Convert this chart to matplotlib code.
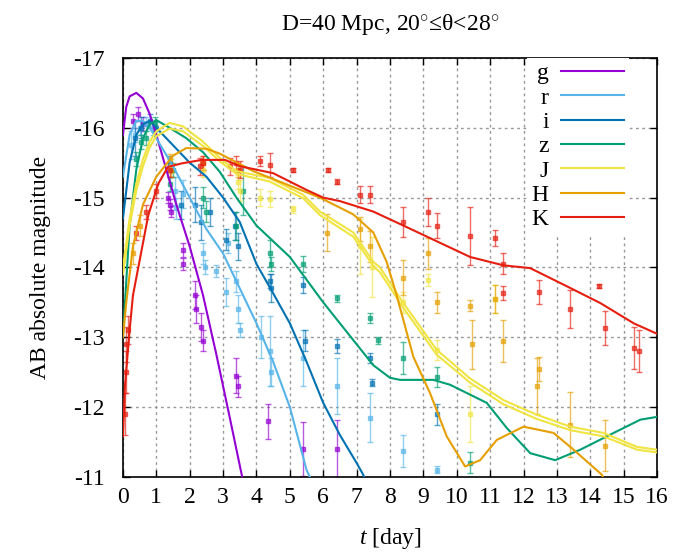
import matplotlib
matplotlib.use("Agg")
import matplotlib.pyplot as plt

plt.rcParams['font.family'] = ['Liberation Serif', 'DejaVu Serif']
plt.rcParams['mathtext.fontset'] = 'custom'
plt.rcParams['mathtext.rm'] = 'Liberation Serif'
plt.rcParams['mathtext.it'] = 'Liberation Serif:italic'
plt.rcParams['axes.unicode_minus'] = False

bands = ['g', 'r', 'i', 'z', 'J', 'H', 'K']
colors = {'g': '#9400d3', 'r': '#56b4e9', 'i': '#0072b2', 'z': '#009e73',
          'J': '#f0e442', 'H': '#e69f00', 'K': '#e51e10'}

# model curves
g_t = [0, 0.1, 0.2, 0.4, 0.6, 0.8, 1.0, 1.3, 1.6, 2.0, 2.4, 2.8, 3.2, 3.55, 3.62]
g_m = [-15.9, -16.3, -16.45, -16.5, -16.42, -16.2, -15.9, -15.4, -14.9, -14.3, -13.6, -12.75, -11.85, -11.05, -10.9]

r_t = [0, 0.2, 0.4, 0.6, 0.8, 1.0, 1.5, 2.0, 2.5, 3.0, 3.5, 4.0, 4.5, 5.0, 5.5, 5.7]
r_m = [-15.3, -15.9, -16.1, -16.1, -16.0, -15.85, -15.45, -15.0, -14.55, -14.2, -13.7, -13.2, -12.65, -12.0, -11.1, -10.9]

i_t = [0, 0.2, 0.4, 0.6, 0.8, 1.0, 1.5, 2.0, 2.5, 3.0, 3.5, 4.0, 4.5, 5.0, 5.5, 6.0, 6.5, 7.0, 7.2, 7.3]
i_m = [-14.7, -15.5, -15.9, -16.05, -16.1, -16.0, -15.75, -15.5, -15.3, -15.0, -14.65, -14.05, -13.63, -13.2, -12.65, -12.06, -11.6, -11.2, -11.03, -10.9]

z_t = [0, 0.2, 0.4, 0.6, 0.8, 1.0, 1.4, 1.9, 2.4, 2.9, 3.4, 4.0, 5.0, 6.0, 7.0, 7.5, 8.0, 8.3, 9.3, 9.8, 10.9, 11.5, 12.2, 12.95, 13.7, 14.7, 15.5, 16]
z_m = [-13.0, -14.6, -15.4, -15.85, -16.05, -16.11, -16.0, -15.85, -15.65, -15.37, -15.0, -14.6, -14.15, -13.5, -12.9, -12.6, -12.42, -12.39, -12.39, -12.32, -12.06, -11.7, -11.34, -11.24, -11.39, -11.63, -11.82, -11.86]

J_t = [0, 0.2, 0.4, 0.6, 0.8, 1.0, 1.4, 1.8, 2.4, 2.9, 3.4, 4.4, 5.4, 5.9, 6.9, 7.5, 7.7, 8.4, 9.4, 10.4, 11.4, 12.4, 13.4, 14.4, 15.4, 16]
J_m = [-14.0, -14.7, -15.2, -15.55, -15.8, -15.95, -16.07, -16.02, -15.8, -15.57, -15.38, -15.28, -15.04, -14.8, -14.5, -14.08, -14.0, -13.49, -12.82, -12.41, -12.1, -11.89, -11.72, -11.63, -11.43, -11.39]
J2_m = [-13.9, -14.6, -15.1, -15.45, -15.72, -15.88, -15.99, -15.95, -15.74, -15.52, -15.34, -15.23, -14.99, -14.75, -14.44, -14.02, -13.93, -13.42, -12.75, -12.35, -12.04, -11.83, -11.67, -11.58, -11.39, -11.35]

H_t = [0, 0.1, 0.3, 0.6, 1.0, 1.5, 1.9, 2.5, 2.9, 3.9, 4.9, 5.9, 6.9, 7.5, 7.9, 8.2, 8.7, 9.2, 9.7, 10.25, 10.7, 11.2, 12.0, 12.9, 13.5, 14.35, 14.45]
H_m = [-13.0, -13.5, -14.3, -14.9, -15.3, -15.6, -15.71, -15.7, -15.63, -15.38, -15.19, -15.0, -14.76, -14.5, -14.08, -13.6, -12.72, -12.2, -11.58, -11.15, -11.24, -11.53, -11.72, -11.63, -11.39, -11.03, -10.9]

K_t = [0, 0.06, 0.2, 0.3, 0.5, 0.76, 1.06, 1.35, 1.76, 2.36, 3.06, 3.5, 4.5, 5.5, 6.0, 6.5, 7.5, 8.4, 9.2, 10.4, 11.4, 12.2, 13.3, 14.3, 15.3, 16]
K_m = [-11.58, -12.3, -13.1, -13.6, -14.1, -14.75, -15.2, -15.44, -15.49, -15.54, -15.54, -15.45, -15.35, -15.11, -15.0, -14.95, -14.8, -14.6, -14.42, -14.15, -14.03, -13.99, -13.73, -13.49, -13.2, -13.05]

# observed points: time, magnitude, error
g_obs_t = [0.3, 0.45, 0.6, 1.35, 1.4, 1.45, 1.8, 1.8, 2.15, 2.2, 2.35, 2.4, 3.4, 3.45, 4.35, 5.4, 6.4]
g_obs_m = [-16.1, -16.2, -16.05, -15.0, -14.9, -14.8, -14.25, -14.05, -13.6, -13.4, -13.15, -12.95, -12.45, -12.3, -11.8, -11.4, -11.4]
g_obs_e = [0.1, 0.1, 0.1, 0.08, 0.08, 0.08, 0.1, 0.08, 0.2, 0.2, 0.2, 0.15, 0.25, 0.15, 0.25, 0.38, 0.42]

r_obs_t = [0.25, 0.35, 0.5, 0.7, 0.9, 1.4, 1.55, 1.6, 1.8, 2.4, 2.45, 2.8, 3.1, 3.15, 3.4, 3.45, 3.5, 4.15, 4.4, 4.45, 5.4, 6.4, 7.4, 8.4, 9.4]
r_obs_m = [-15.75, -15.9, -16.0, -16.05, -16.0, -15.45, -15.1, -14.85, -15.05, -14.2, -14.0, -13.95, -13.65, -14.35, -13.8, -13.4, -13.1, -13.0, -12.8, -12.5, -12.7, -12.3, -11.85, -11.37, -11.1]
r_obs_e = [0.2, 0.1, 0.1, 0.1, 0.1, 0.1, 0.2, 0.15, 0.2, 0.15, 0.1, 0.08, 0.2, 0.15, 0.15, 0.2, 0.1, 0.3, 0.5, 0.2, 0.4, 0.4, 0.35, 0.23, 0.05]

i_obs_t = [0.35, 0.55, 0.8, 1.0, 1.4, 1.75, 2.15, 2.35, 2.6, 3.1, 3.35, 3.45, 4.4, 4.45, 5.4, 5.45, 6.4, 7.4, 7.45, 9.4]
i_obs_m = [-15.85, -16.0, -16.1, -16.0, -15.5, -14.9, -14.9, -14.65, -14.8, -14.4, -14.6, -14.3, -13.8, -13.7, -13.75, -12.95, -12.87, -12.7, -12.35, -11.9]
i_obs_e = [0.25, 0.15, 0.1, 0.1, 0.1, 0.2, 0.25, 0.25, 0.2, 0.15, 0.2, 0.2, 0.1, 0.2, 0.12, 0.15, 0.1, 0.07, 0.05, 0.15]

z_obs_t = [0.4, 0.55, 0.7, 0.95, 1.4, 1.5, 2.4, 2.5, 3.4, 3.6, 4.4, 4.45, 5.4, 6.4, 7.4, 7.65, 8.4, 9.4, 10.4]
z_obs_m = [-15.55, -15.8, -15.85, -16.05, -15.2, -15.4, -15.0, -14.8, -14.6, -15.1, -14.2, -14.05, -14.05, -13.56, -13.28, -12.96, -12.7, -12.43, -11.2]
z_obs_e = [0.1, 0.1, 0.1, 0.1, 0.1, 0.1, 0.15, 0.15, 0.2, 0.35, 0.2, 0.1, 0.12, 0.05, 0.07, 0.05, 0.23, 0.14, 0.15]

J_obs_t = [1.45, 2.4, 3.45, 3.5, 4.1, 4.4, 5.1, 7.1, 7.45, 8.4, 9.15, 9.4, 10.4, 11.15]
J_obs_m = [-15.45, -15.4, -15.23, -15.1, -15.0, -14.98, -14.83, -14.3, -14.0, -13.5, -13.82, -12.82, -11.9, -13.55]
J_obs_e = [0.1, 0.1, 0.1, 0.15, 0.12, 0.12, 0.05, 0.4, 0.43, 0.15, 0.08, 0.14, 0.4, 0.2]

H_obs_t = [0.3, 0.5, 1.4, 1.45, 2.4, 3.45, 6.1, 7.1, 7.4, 8.4, 9.15, 9.4, 10.4, 10.45, 11.15, 11.4, 12.4, 12.45, 13.4, 14.45]
H_obs_m = [-14.2, -14.6, -15.55, -15.4, -15.5, -15.4, -14.5, -14.55, -14.3, -13.85, -14.2, -13.5, -13.45, -12.9, -13.55, -12.95, -12.3, -12.55, -11.75, -11.45]
H_obs_e = [0.15, 0.15, 0.08, 0.1, 0.1, 0.1, 0.27, 0.17, 0.22, 0.25, 0.22, 0.15, 0.08, 0.35, 0.2, 0.3, 0.4, 0.17, 0.47, 0.37]

K_obs_t = [0.05, 0.08, 0.1, 0.15, 0.4, 0.7, 1.0, 1.4, 2.3, 2.4, 3.2, 3.4, 3.5, 4.1, 4.4, 5.1, 6.15, 6.4, 7.1, 7.4, 8.4, 9.15, 9.4, 10.4, 11.15, 11.4, 11.4, 12.45, 13.4, 14.25, 14.45, 15.3, 15.45]
K_obs_m = [-11.9, -12.5, -12.9, -13.1, -14.5, -14.8, -15.1, -15.4, -15.45, -15.5, -15.45, -15.5, -15.4, -15.52, -15.47, -15.4, -15.4, -15.23, -15.04, -15.04, -14.65, -14.8, -14.6, -14.45, -14.42, -14.05, -13.63, -13.65, -13.4, -13.73, -13.13, -12.85, -12.8]
K_obs_e = [0.3, 0.3, 0.25, 0.2, 0.1, 0.1, 0.1, 0.1, 0.12, 0.1, 0.12, 0.1, 0.12, 0.07, 0.17, 0.03, 0.03, 0.03, 0.12, 0.12, 0.22, 0.2, 0.18, 0.42, 0.12, 0.15, 0.1, 0.17, 0.27, 0.03, 0.24, 0.3, 0.3]

models = {'g': (g_t, [g_m]), 'r': (r_t, [r_m]), 'i': (i_t, [i_m]), 'z': (z_t, [z_m]),
          'J': (J_t, [J_m, J2_m]), 'H': (H_t, [H_m]), 'K': (K_t, [K_m])}
obs = {'g': (g_obs_t, g_obs_m, g_obs_e), 'r': (r_obs_t, r_obs_m, r_obs_e),
       'i': (i_obs_t, i_obs_m, i_obs_e), 'z': (z_obs_t, z_obs_m, z_obs_e),
       'J': (J_obs_t, J_obs_m, J_obs_e), 'H': (H_obs_t, H_obs_m, H_obs_e),
       'K': (K_obs_t, K_obs_m, K_obs_e)}

FS = 17

fig = plt.figure(figsize=(6.83, 5.52), dpi=100)
ax = fig.add_axes([0.180, 0.136, 0.782, 0.759])

for b in bands:
    t, m, e = obs[b]
    ax.errorbar(t, m, yerr=e, fmt='s', ms=2.5, color=colors[b], ecolor=colors[b],
                elinewidth=1.0, capsize=2.5, capthick=1.0, alpha=0.65, zorder=2)

handles = []
for b in bands:
    t, curves = models[b]
    for k, m in enumerate(curves):
        ln, = ax.plot(t, m, color=colors[b], lw=1.5, zorder=3)
        if k == 0:
            handles.append(ln)

ax.set_xlim(0, 16)
ax.set_ylim(-11, -17)
ax.set_xticks(range(0, 17))
ax.set_yticks(range(-17, -10))
ax.tick_params(direction='in', length=5, width=1, top=True, right=True,
               labelsize=FS)
ax.tick_params(axis='x', pad=7)
ax.tick_params(axis='y', pad=13)
ax.grid(True, color='#999999', linestyle=(0, (2, 2.5)), linewidth=1.0)
ax.set_axisbelow(True)
for s in ax.spines.values():
    s.set_linewidth(1.2)

ax.set_xlabel('$t$ [day]', fontsize=FS, labelpad=13)
ax.set_ylabel('AB absolute magnitude', fontsize=FS, labelpad=16)
ax.set_title('D=40 Mpc, 20$^{\\circ}$≤θ<28$^{\\circ}$', fontsize=FS, pad=20)

leg = ax.legend(handles, bands, loc='upper right', markerfirst=False,
                fontsize=FS, handlelength=2.7, handletextpad=0.5,
                labelspacing=0.12, borderaxespad=0.0, borderpad=0.2,
                bbox_to_anchor=(1 - 28 / 534, 1.0), frameon=True,
                fancybox=False, framealpha=1.0, edgecolor='none',
                facecolor='white')
leg.set_zorder(5)

fig.savefig('out.png', dpi=100)
